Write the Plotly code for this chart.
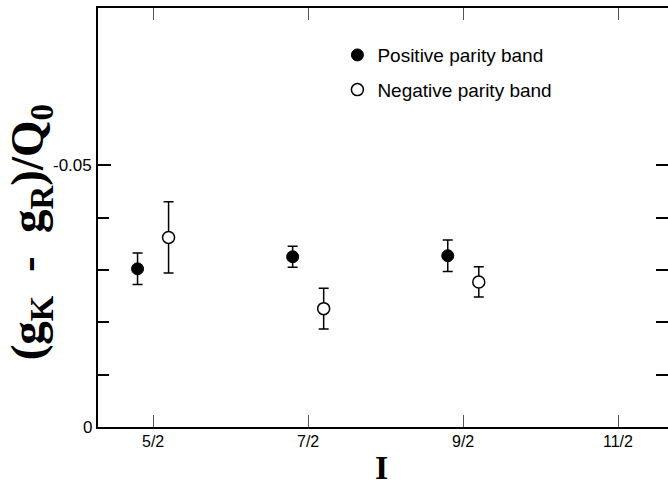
import plotly.graph_objects as go

# Spin values (I) and the plotted quantity (g_K - g_R)/Q_0 for both bands
spins = [2.5, 3.5, 4.5]
spin_labels = ["5/2", "7/2", "9/2", "11/2"]
spin_ticks = [2.5, 3.5, 4.5, 5.5]

pos_values = [-0.0302, -0.0325, -0.0327]
pos_errors = [0.0030, 0.0020, 0.0030]

neg_values = [-0.0362, -0.0226, -0.0277]
neg_errors = [0.0068, 0.0039, 0.0029]

# horizontal offsets so the two bands do not overlap at the same spin
pos_shift = -0.1
neg_shift = 0.1

y_major = [0, -0.05]
y_major_text = ["0", "-0.05"]
y_minor = [-0.01, -0.02, -0.03, -0.04]

SANS = "Liberation Sans, Arial"
SERIF = "Liberation Serif, Times New Roman"

fig = go.Figure()

fig.add_trace(go.Scatter(
    x=[s + pos_shift for s in spins], y=pos_values,
    mode="markers", name="Positive parity band", legendgroup="pos",
    marker=dict(symbol="circle", size=12, color="black",
                line=dict(color="black", width=1)),
    error_y=dict(type="data", array=pos_errors, visible=True,
                 color="black", thickness=1.5, width=5),
))

fig.add_trace(go.Scatter(
    x=[s + neg_shift for s in spins], y=neg_values,
    mode="markers", name="Negative parity band", legendgroup="neg",
    marker=dict(symbol="circle", size=12, color="white",
                line=dict(color="black", width=1.5)),
    error_y=dict(type="data", array=neg_errors, visible=True,
                 color="black", thickness=1.5, width=5),
))

# empty trace carrying the right-hand tick axis (ticks only, no spine)
fig.add_trace(go.Scatter(x=[], y=[], yaxis="y2", showlegend=False,
                         hoverinfo="skip"))

# tick labels written as annotations anchored to the axis scales
labels = []
for t, txt in zip(spin_ticks, spin_labels):
    labels.append(dict(text=txt, x=t, xref="x", y=0, yref="paper",
                       xanchor="center", yanchor="top", yshift=-4,
                       showarrow=False,
                       font=dict(family=SANS, size=16, color="black")))
for v, txt in zip(y_major, y_major_text):
    labels.append(dict(text=txt, x=0, xref="paper", y=v, yref="y",
                       xanchor="right", yanchor="middle", xshift=-4,
                       showarrow=False,
                       font=dict(family=SANS, size=17, color="black")))

# axis titles
labels.append(dict(
    text="<b>I</b>", x=0.498, xref="paper", y=0, yref="paper",
    xanchor="center", yanchor="middle", yshift=-40, showarrow=False,
    font=dict(family=SERIF, size=34, color="black")))
labels.append(dict(
    text="<b>(g<sub>K</sub>&nbsp; - &nbsp;g<sub>R</sub>)/Q<sub>0</sub></b>",
    textangle=-90, xref="paper", yref="paper",
    x=-0.119, y=0.465, xanchor="center", yanchor="middle",
    showarrow=False,
    font=dict(family=SERIF, size=47, color="black")))

fig.update_layout(
    width=668, height=490,
    margin=dict(l=98, r=0, t=8, b=63),
    paper_bgcolor="white", plot_bgcolor="white",
    font=dict(family=SANS, size=16, color="black"),
    showlegend=True,
    legend=dict(x=0.42, y=0.933, xanchor="left", yanchor="top",
                bgcolor="rgba(0,0,0,0)", traceorder="grouped",
                tracegroupgap=7, font=dict(family=SANS, size=19)),
    xaxis=dict(
        range=[2.145, 5.82],
        tickmode="array", tickvals=spin_ticks, showticklabels=False,
        ticks="inside", ticklen=12, tickwidth=1, tickcolor="#555",
        showline=True, linecolor="black", linewidth=2, mirror="ticks",
        showgrid=False, zeroline=False,
    ),
    yaxis=dict(
        range=[0, -0.08],
        tickmode="array", tickvals=y_major, showticklabels=False,
        ticks="inside", ticklen=13, tickwidth=2, tickcolor="black",
        minor=dict(tickvals=y_minor, ticks="inside", ticklen=11,
                   tickwidth=2, tickcolor="black"),
        showline=True, linecolor="black", linewidth=2, mirror=False,
        showgrid=False, zeroline=False,
    ),
    yaxis2=dict(
        range=[0, -0.08], overlaying="y", side="right",
        tickmode="array", tickvals=y_major + y_minor, showticklabels=False,
        ticks="inside", ticklen=12, tickwidth=2, tickcolor="black",
        showline=False, showgrid=False, zeroline=False,
    ),
    annotations=labels,
)

fig.write_html("out.html")
